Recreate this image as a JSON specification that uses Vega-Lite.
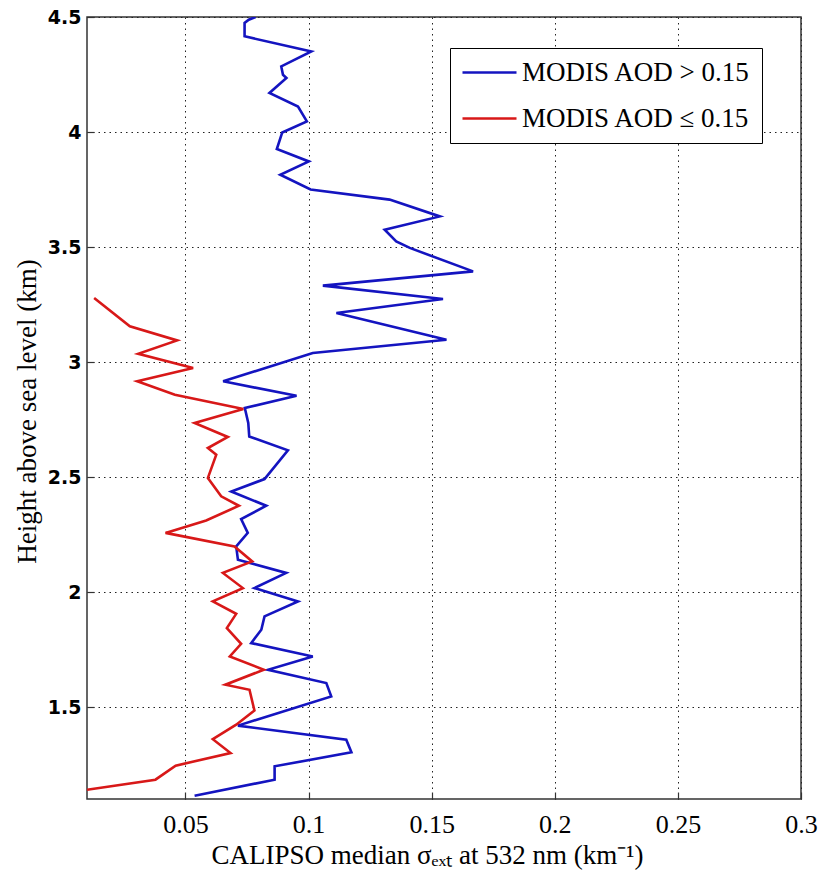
{
  "$schema": "https://vega.github.io/schema/vega-lite/v6.json",
  "autosize": {"type": "none"},
  "width": 714,
  "height": 782,
  "padding": {"left": 87, "top": 17, "right": 17, "bottom": 84},
  "background": "white",
  "config": {
    "view": {"stroke": "#333333", "strokeWidth": 1.5},
    "axis": {
      "domain": false,
      "ticks": true,
      "tickSize": -7,
      "tickColor": "#333333",
      "tickWidth": 1.2,
      "grid": true,
      "gridColor": "#222222",
      "gridDash": [1.5, 4],
      "gridWidth": 1,
      "gridOpacity": 1,
      "labelColor": "#000000",
      "titleColor": "#000000",
      "labelFlush": false,
      "labelOverlap": false
    }
  },
  "data": {
    "values": [
      {"series": "MODIS AOD > 0.15", "ext": 0.0785, "height": 4.5},
      {"series": "MODIS AOD > 0.15", "ext": 0.0757, "height": 4.488},
      {"series": "MODIS AOD > 0.15", "ext": 0.074, "height": 4.474},
      {"series": "MODIS AOD > 0.15", "ext": 0.074, "height": 4.416},
      {"series": "MODIS AOD > 0.15", "ext": 0.1011, "height": 4.35},
      {"series": "MODIS AOD > 0.15", "ext": 0.0889, "height": 4.285},
      {"series": "MODIS AOD > 0.15", "ext": 0.0896, "height": 4.249},
      {"series": "MODIS AOD > 0.15", "ext": 0.091, "height": 4.235},
      {"series": "MODIS AOD > 0.15", "ext": 0.0841, "height": 4.17},
      {"series": "MODIS AOD > 0.15", "ext": 0.0957, "height": 4.111},
      {"series": "MODIS AOD > 0.15", "ext": 0.0993, "height": 4.046},
      {"series": "MODIS AOD > 0.15", "ext": 0.0893, "height": 3.998},
      {"series": "MODIS AOD > 0.15", "ext": 0.0871, "height": 3.926},
      {"series": "MODIS AOD > 0.15", "ext": 0.1001, "height": 3.872},
      {"series": "MODIS AOD > 0.15", "ext": 0.0885, "height": 3.814},
      {"series": "MODIS AOD > 0.15", "ext": 0.1008, "height": 3.75},
      {"series": "MODIS AOD > 0.15", "ext": 0.1329, "height": 3.706},
      {"series": "MODIS AOD > 0.15", "ext": 0.1533, "height": 3.633},
      {"series": "MODIS AOD > 0.15", "ext": 0.1309, "height": 3.575},
      {"series": "MODIS AOD > 0.15", "ext": 0.1356, "height": 3.524},
      {"series": "MODIS AOD > 0.15", "ext": 0.1411, "height": 3.496},
      {"series": "MODIS AOD > 0.15", "ext": 0.1668, "height": 3.394},
      {"series": "MODIS AOD > 0.15", "ext": 0.1058, "height": 3.332},
      {"series": "MODIS AOD > 0.15", "ext": 0.1546, "height": 3.274},
      {"series": "MODIS AOD > 0.15", "ext": 0.1113, "height": 3.213},
      {"series": "MODIS AOD > 0.15", "ext": 0.156, "height": 3.097},
      {"series": "MODIS AOD > 0.15", "ext": 0.1017, "height": 3.039},
      {"series": "MODIS AOD > 0.15", "ext": 0.0653, "height": 2.916},
      {"series": "MODIS AOD > 0.15", "ext": 0.0951, "height": 2.853},
      {"series": "MODIS AOD > 0.15", "ext": 0.0741, "height": 2.8},
      {"series": "MODIS AOD > 0.15", "ext": 0.0755, "height": 2.735},
      {"series": "MODIS AOD > 0.15", "ext": 0.0759, "height": 2.676},
      {"series": "MODIS AOD > 0.15", "ext": 0.0916, "height": 2.616},
      {"series": "MODIS AOD > 0.15", "ext": 0.0821, "height": 2.491},
      {"series": "MODIS AOD > 0.15", "ext": 0.0686, "height": 2.437},
      {"series": "MODIS AOD > 0.15", "ext": 0.0828, "height": 2.375},
      {"series": "MODIS AOD > 0.15", "ext": 0.0726, "height": 2.317},
      {"series": "MODIS AOD > 0.15", "ext": 0.0753, "height": 2.257},
      {"series": "MODIS AOD > 0.15", "ext": 0.0706, "height": 2.198},
      {"series": "MODIS AOD > 0.15", "ext": 0.0713, "height": 2.14},
      {"series": "MODIS AOD > 0.15", "ext": 0.0909, "height": 2.083},
      {"series": "MODIS AOD > 0.15", "ext": 0.078, "height": 2.017},
      {"series": "MODIS AOD > 0.15", "ext": 0.0957, "height": 1.959},
      {"series": "MODIS AOD > 0.15", "ext": 0.0821, "height": 1.894},
      {"series": "MODIS AOD > 0.15", "ext": 0.0808, "height": 1.836},
      {"series": "MODIS AOD > 0.15", "ext": 0.0767, "height": 1.778},
      {"series": "MODIS AOD > 0.15", "ext": 0.1017, "height": 1.72},
      {"series": "MODIS AOD > 0.15", "ext": 0.0835, "height": 1.662},
      {"series": "MODIS AOD > 0.15", "ext": 0.1072, "height": 1.604},
      {"series": "MODIS AOD > 0.15", "ext": 0.1092, "height": 1.546},
      {"series": "MODIS AOD > 0.15", "ext": 0.0713, "height": 1.419},
      {"series": "MODIS AOD > 0.15", "ext": 0.1153, "height": 1.358},
      {"series": "MODIS AOD > 0.15", "ext": 0.1174, "height": 1.303},
      {"series": "MODIS AOD > 0.15", "ext": 0.0862, "height": 1.242},
      {"series": "MODIS AOD > 0.15", "ext": 0.0862, "height": 1.184},
      {"series": "MODIS AOD > 0.15", "ext": 0.0537, "height": 1.114},
      {"series": "MODIS AOD ≤ 0.15", "ext": 0.0129, "height": 3.278},
      {"series": "MODIS AOD ≤ 0.15", "ext": 0.0274, "height": 3.155},
      {"series": "MODIS AOD ≤ 0.15", "ext": 0.0466, "height": 3.094},
      {"series": "MODIS AOD ≤ 0.15", "ext": 0.0308, "height": 3.036},
      {"series": "MODIS AOD ≤ 0.15", "ext": 0.0531, "height": 2.974},
      {"series": "MODIS AOD ≤ 0.15", "ext": 0.0304, "height": 2.916},
      {"series": "MODIS AOD ≤ 0.15", "ext": 0.0457, "height": 2.858},
      {"series": "MODIS AOD ≤ 0.15", "ext": 0.0735, "height": 2.796},
      {"series": "MODIS AOD ≤ 0.15", "ext": 0.0537, "height": 2.735},
      {"series": "MODIS AOD ≤ 0.15", "ext": 0.0672, "height": 2.674},
      {"series": "MODIS AOD ≤ 0.15", "ext": 0.0591, "height": 2.626},
      {"series": "MODIS AOD ≤ 0.15", "ext": 0.0625, "height": 2.597},
      {"series": "MODIS AOD ≤ 0.15", "ext": 0.0591, "height": 2.496},
      {"series": "MODIS AOD ≤ 0.15", "ext": 0.0645, "height": 2.416},
      {"series": "MODIS AOD ≤ 0.15", "ext": 0.0717, "height": 2.375},
      {"series": "MODIS AOD ≤ 0.15", "ext": 0.0584, "height": 2.311},
      {"series": "MODIS AOD ≤ 0.15", "ext": 0.0419, "height": 2.257},
      {"series": "MODIS AOD ≤ 0.15", "ext": 0.0699, "height": 2.198},
      {"series": "MODIS AOD ≤ 0.15", "ext": 0.0771, "height": 2.133},
      {"series": "MODIS AOD ≤ 0.15", "ext": 0.0652, "height": 2.083},
      {"series": "MODIS AOD ≤ 0.15", "ext": 0.0733, "height": 2.017},
      {"series": "MODIS AOD ≤ 0.15", "ext": 0.0611, "height": 1.959},
      {"series": "MODIS AOD ≤ 0.15", "ext": 0.0706, "height": 1.905},
      {"series": "MODIS AOD ≤ 0.15", "ext": 0.0668, "height": 1.843},
      {"series": "MODIS AOD ≤ 0.15", "ext": 0.0726, "height": 1.775},
      {"series": "MODIS AOD ≤ 0.15", "ext": 0.068, "height": 1.72},
      {"series": "MODIS AOD ≤ 0.15", "ext": 0.0818, "height": 1.662},
      {"series": "MODIS AOD ≤ 0.15", "ext": 0.0662, "height": 1.597},
      {"series": "MODIS AOD ≤ 0.15", "ext": 0.076, "height": 1.575},
      {"series": "MODIS AOD ≤ 0.15", "ext": 0.078, "height": 1.485},
      {"series": "MODIS AOD ≤ 0.15", "ext": 0.0706, "height": 1.423},
      {"series": "MODIS AOD ≤ 0.15", "ext": 0.0611, "height": 1.36},
      {"series": "MODIS AOD ≤ 0.15", "ext": 0.0683, "height": 1.3},
      {"series": "MODIS AOD ≤ 0.15", "ext": 0.046, "height": 1.245},
      {"series": "MODIS AOD ≤ 0.15", "ext": 0.0378, "height": 1.184},
      {"series": "MODIS AOD ≤ 0.15", "ext": 0.01, "height": 1.14}
    ]
  },
  "mark": {"type": "line", "strokeWidth": 2.6, "clip": true},
  "encoding": {
    "x": {
      "field": "ext",
      "type": "quantitative",
      "scale": {"domain": [0.01, 0.3], "nice": false, "zero": false},
      "axis": {
        "values": [0.05, 0.1, 0.15, 0.2, 0.25, 0.3],
        "format": "~g",
        "labelFont": "Liberation Serif",
        "labelFontSize": 26,
        "labelBaseline": "alphabetic",
        "labelPadding": 40,
        "title": "CALIPSO median σₑₓₜ at 532 nm (km⁻¹)",
        "titleFont": "Liberation Serif",
        "titleFontSize": 27,
        "titleFontWeight": "normal",
        "titleBaseline": "alphabetic",
        "titleAlign": "center",
        "titleX": 340,
        "titleY": 64
      }
    },
    "y": {
      "field": "height",
      "type": "quantitative",
      "scale": {"domain": [1.1, 4.5], "nice": false, "zero": false},
      "axis": {
        "values": [1.5, 2, 2.5, 3, 3.5, 4, 4.5],
        "format": "~g",
        "labelFont": "DejaVu Sans",
        "labelFontWeight": "bold",
        "labelFontSize": 19,
        "labelPadding": 13,
        "labelAlign": "right",
        "labelBaseline": "middle",
        "title": "Height above sea level (km)",
        "titleFont": "Liberation Serif",
        "titleFontSize": 27,
        "titleFontWeight": "normal",
        "titleAngle": 270,
        "titleBaseline": "middle",
        "titleAlign": "center",
        "titleX": -60,
        "titleY": 394
      }
    },
    "color": {
      "field": "series",
      "type": "nominal",
      "scale": {"domain": ["MODIS AOD > 0.15", "MODIS AOD ≤ 0.15"], "range": ["#1414c0", "#d81818"]},
      "legend": {
        "title": null,
        "orient": "none",
        "legendX": 363,
        "legendY": 31,
        "strokeColor": "#000000",
        "fillColor": "#ffffff",
        "padding": 11,
        "symbolType": "stroke",
        "symbolSize": 2916,
        "symbolStrokeWidth": 2.6,
        "clipHeight": 27,
        "labelFont": "Liberation Serif",
        "labelFontSize": 27,
        "labelColor": "#000000",
        "labelOffset": 4,
        "labelLimit": 400,
        "rowPadding": 18
      }
    },
    "order": {"field": "height", "type": "quantitative"}
  }
}
